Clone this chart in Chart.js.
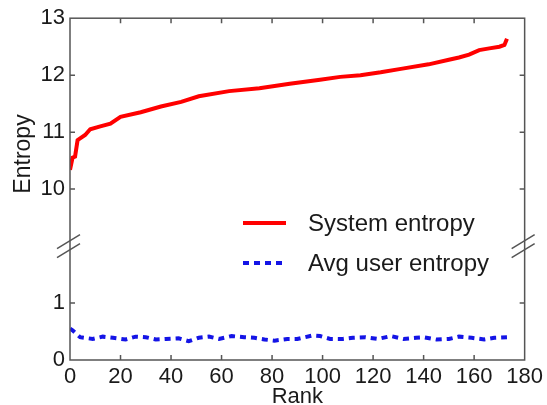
<!DOCTYPE html>
<html>
<head>
<meta charset="utf-8">
<script src="https://cdn.jsdelivr.net/npm/chart.js@4.4.1/dist/chart.umd.min.js"></script>
<style>
  html, body { margin: 0; padding: 0; background: #fff; }
</style>
</head>
<body>
<canvas id="chart" width="547" height="405"></canvas>
<script>
// data
const systemRanks = [0, 1, 2, 3, 4, 6, 8, 12, 16, 20, 28, 36, 44, 51, 63, 75, 87, 99, 107, 115, 123, 131, 142, 150, 154, 158, 162, 166, 170, 172, 173];
const systemEntropy = [10.34, 10.55, 10.57, 10.86, 10.89, 10.95, 11.05, 11.10, 11.15, 11.27, 11.35, 11.45, 11.53, 11.63, 11.72, 11.77, 11.85, 11.92, 11.97, 12.0, 12.05, 12.11, 12.19, 12.27, 12.31, 12.36, 12.44, 12.47, 12.50, 12.53, 12.64];

const userRanks = [0, 1, 4, 9, 13, 17, 22, 26, 30, 34, 38, 43, 47, 51, 55, 59, 64, 69, 73, 77, 81, 86, 90, 96, 99, 103, 108, 112, 117, 122, 127, 132, 137, 140, 145, 150, 154, 159, 164, 168, 173];
const avgUserEntropy = [0.55, 0.52, 0.40, 0.37, 0.41, 0.39, 0.36, 0.41, 0.40, 0.36, 0.37, 0.38, 0.33, 0.39, 0.41, 0.37, 0.42, 0.40, 0.39, 0.36, 0.34, 0.37, 0.37, 0.43, 0.42, 0.37, 0.37, 0.39, 0.40, 0.37, 0.42, 0.37, 0.39, 0.40, 0.36, 0.37, 0.41, 0.39, 0.36, 0.39, 0.40];

const xTicks = [0, 20, 40, 60, 80, 100, 120, 140, 160, 180];
const upperTicks = [10, 11, 12, 13];
const lowerTicks = [0, 1];

const FONT = "'Liberation Sans', Arial, sans-serif";
const AXIS = "#555";
const TEXT = "#1a1a1a";

const toPoints = (xs, ys) => xs.map((x, i) => ({ x: x, y: ys[i] }));
const fixedTicks = (list) => (scale) => {
  scale.ticks = list.map((v) => ({ value: v }));
};

// box, inward ticks, axis break marks, y title and legend
const framePlugin = {
  id: "frame",
  afterDraw(chart) {
    const { ctx, chartArea: a, scales } = chart;
    ctx.save();
    ctx.strokeStyle = AXIS;
    ctx.lineWidth = 1.5;
    ctx.strokeRect(a.left, a.top, a.right - a.left, a.bottom - a.top);

    ctx.beginPath();
    scales.x.ticks.forEach((t) => {
      const px = scales.x.getPixelForValue(t.value);
      if (px <= a.left + 1 || px >= a.right - 1) return;
      ctx.moveTo(px, a.bottom);
      ctx.lineTo(px, a.bottom - 5);
      ctx.moveTo(px, a.top);
      ctx.lineTo(px, a.top + 5);
    });
    ["yTop", "yBot"].forEach((id) => {
      const s = scales[id];
      s.ticks.forEach((t) => {
        const py = s.getPixelForValue(t.value);
        if (py <= a.top + 1 || py >= a.bottom - 1) return;
        ctx.moveTo(a.left, py);
        ctx.lineTo(a.left + 5, py);
        ctx.moveTo(a.right, py);
        ctx.lineTo(a.right - 5, py);
      });
    });
    ctx.stroke();

    // break marks
    const yb = scales.yBot.top;
    ctx.beginPath();
    [a.left, a.right].forEach((x) => {
      [-4.5, 4.5].forEach((d) => {
        ctx.moveTo(x - 13, yb + d + 7);
        ctx.lineTo(x + 10, yb + d - 7);
      });
    });
    ctx.stroke();

    // y title
    ctx.fillStyle = TEXT;
    ctx.font = "23px " + FONT;
    ctx.textAlign = "center";
    ctx.textBaseline = "middle";
    ctx.translate(24, 154);
    ctx.rotate(-Math.PI / 2);
    ctx.fillText("Entropy", 0, 0);
    ctx.setTransform(1, 0, 0, 1, 0, 0);

    // legend
    ctx.font = "24px " + FONT;
    ctx.textAlign = "left";
    chart.data.datasets.forEach((ds, i) => {
      const y = 223 + i * 40;
      ctx.beginPath();
      ctx.strokeStyle = ds.borderColor;
      ctx.lineWidth = ds.borderWidth;
      ctx.setLineDash(ds.borderDash || []);
      ctx.moveTo(243, y);
      ctx.lineTo(286, y);
      ctx.stroke();
      ctx.setLineDash([]);
      ctx.fillStyle = TEXT;
      ctx.fillText(ds.label, 308, y + 1);
    });
    ctx.restore();
  },
};

const ctx = document.getElementById("chart").getContext("2d");
new Chart(ctx, {
  type: "line",
  data: {
    datasets: [
      {
        label: "System entropy",
        data: toPoints(systemRanks, systemEntropy),
        yAxisID: "yTop",
        borderColor: "#ff0000",
        borderWidth: 4,
        pointRadius: 0,
        tension: 0,
      },
      {
        label: "Avg user entropy",
        data: toPoints(userRanks, avgUserEntropy),
        yAxisID: "yBot",
        borderColor: "rgb(20,20,230)",
        borderWidth: 4,
        borderDash: [6, 5],
        pointRadius: 0,
        tension: 0,
      },
    ],
  },
  options: {
    responsive: false,
    animation: false,
    layout: { padding: { left: 0, right: 22, top: 15, bottom: 0 } },
    plugins: { legend: { display: false }, tooltip: { enabled: false } },
    scales: {
      x: {
        type: "linear",
        min: 0,
        max: 180,
        afterBuildTicks: fixedTicks(xTicks),
        afterFit: (s) => { s.height = 45; },
        grid: { display: false, drawTicks: false },
        border: { display: false },
        ticks: { color: TEXT, font: { family: FONT, size: 22 }, padding: 4, maxRotation: 0 },
        title: { display: true, text: "Rank", color: TEXT, font: { family: FONT, size: 22 }, padding: { top: 0, bottom: -5 } },
      },
      // lower part first so it ends up under the upper part in the stack
      yBot: {
        type: "linear",
        position: "left",
        stack: "y",
        stackWeight: 1,
        min: 0,
        max: 2,
        afterBuildTicks: fixedTicks(lowerTicks),
        afterFit: (s) => { s.width = 70; },
        grid: { display: false, drawTicks: false },
        border: { display: false },
        ticks: { color: TEXT, font: { family: FONT, size: 22 }, padding: 5 },
      },
      yTop: {
        type: "linear",
        position: "left",
        stack: "y",
        stackWeight: 2,
        min: 9,
        max: 13,
        afterBuildTicks: fixedTicks(upperTicks),
        afterFit: (s) => { s.width = 70; },
        grid: { display: false, drawTicks: false },
        border: { display: false },
        ticks: { color: TEXT, font: { family: FONT, size: 22 }, padding: 5 },
      },
    },
  },
  plugins: [framePlugin],
});
</script>
</body>
</html>
